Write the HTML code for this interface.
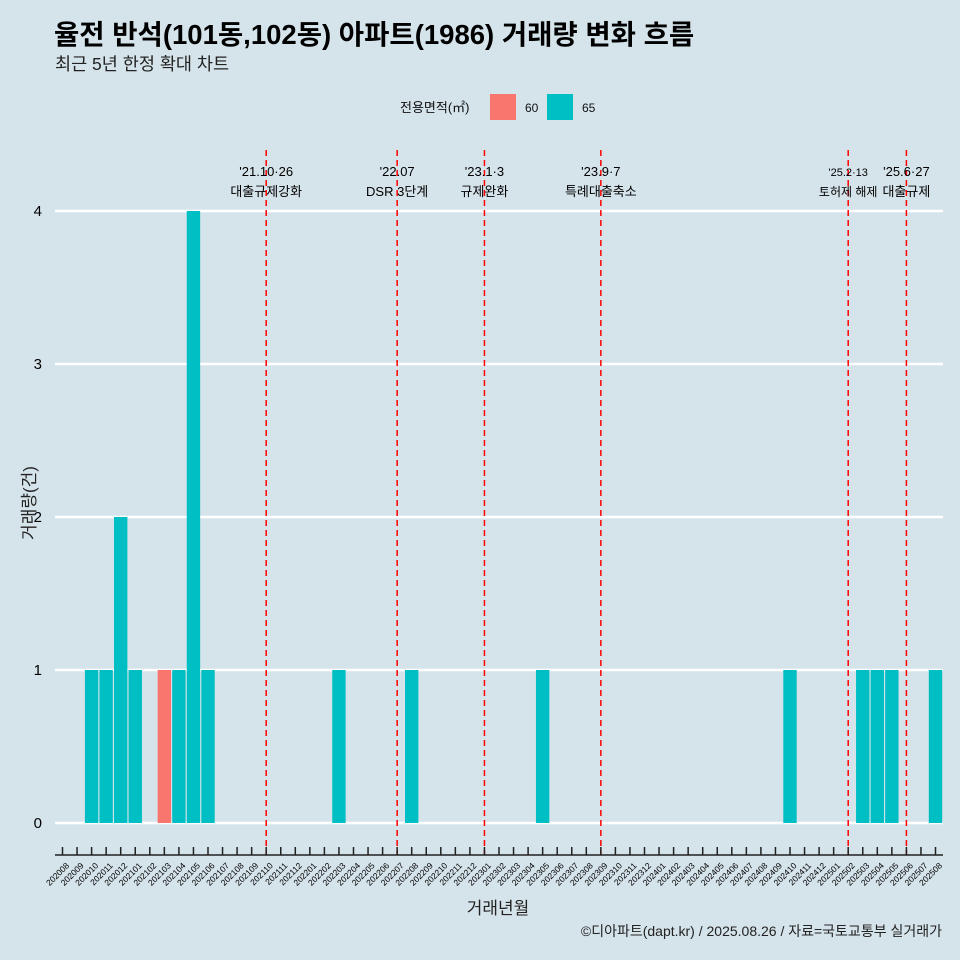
<!DOCTYPE html>
<html><head><meta charset="utf-8"><style>
body{margin:0;background:#d5e3ea;}
svg{display:block;font-family:"Liberation Sans","Noto Sans CJK KR",sans-serif;}
</style></head><body>
<svg id="chart" width="960" height="960" viewBox="0 0 960 960">
<rect width="960" height="960" fill="#d5e3ea"/>
<text x="54" y="44" font-size="27.5" font-weight="bold" fill="#000">율전 반석(101동,102동) 아파트(1986) 거래량 변화 흐름</text>
<text x="55" y="70" font-size="17.5" fill="#222">최근 5년 한정 확대 차트</text>
<g>
<text x="400" y="112" font-size="13" fill="#111">전용면적(㎡)</text>
<rect x="490" y="94" width="26" height="26" fill="#f8766d"/>
<text x="525" y="112" font-size="12" fill="#111">60</text>
<rect x="547" y="94" width="26" height="26" fill="#00bfc4"/>
<text x="582" y="112" font-size="12" fill="#111">65</text>
</g>
<g id="grid"></g><g id="bars"></g><g id="events"></g><g id="xaxis"></g>
<text x="42" y="823" font-size="15" text-anchor="end" dy="5">0</text>
<text transform="translate(35,503) rotate(-90)" font-size="17" text-anchor="middle" fill="#222">거래량(건)</text>
<text x="498" y="914" font-size="17" text-anchor="middle" fill="#222">거래년월</text>
<text x="942" y="936" font-size="14" text-anchor="end" fill="#222">©디아파트(dapt.kr) / 2025.08.26 / 자료=국토교통부 실거래가</text>
</svg>
<script>
const months=[];for(let y=2020,m=8;!(y===2025&&m===9);){months.push(''+y+(m<10?'0':'')+m);m++;if(m>12){m=1;y++;}}
const barMonths=['202010','202011','202012','202101','202103','202104','202105','202106','202203','202208','202305','202410','202503','202504','202505','202508'];
const barValues=[1,1,2,1,1,1,4,1,1,1,1,1,1,1,1,1];
const barAreas=['65','65','65','65','60','65','65','65','65','65','65','65','65','65','65','65'];
const yTicks=[1,2,3,4];
const evMonths=['202110','202207','202301','202309','202502','202506'];
const evLine1=["'21.10·26","'22.07","'23.1·3","'23.9·7","'25.2·13","'25.6·27"];
const evLine2=["대출규제강화","DSR 3단계","규제완화","특례대출축소","토허제 해제","대출규제"];
const NS='http://www.w3.org/2000/svg';
const x=i=>62.5+i*14.55, y=v=>823-v*153;
function mk(t,a,p){const e=document.createElementNS(NS,t);for(const k in a)e.setAttribute(k,a[k]);p.appendChild(e);return e;}
const grid=document.getElementById('grid');
[0].concat(yTicks).forEach(v=>{const l=mk('line',{x1:55,x2:943,y1:y(v),y2:y(v),stroke:'#fff','stroke-width':2.5},grid);

});
yTicks.forEach(v=>{const t=mk('text',{x:42,y:y(v)+5,'font-size':15,'text-anchor':'end'},grid);t.textContent=v;

});
const bars=document.getElementById('bars');
barMonths.forEach((mo,k)=>{const i=months.indexOf(mo);const v=barValues[k];
const r=mk('rect',{x:x(i)-6.7,width:13.4,y:y(v),height:y(0)-y(v),fill:barAreas[k]==='60'?'#f8766d':'#00bfc4'},bars);

});
const ev=document.getElementById('events');
evMonths.forEach((mo,k)=>{const i=months.indexOf(mo);const xx=x(i);
const l=mk('line',{x1:xx,x2:xx,y1:150,y2:855,stroke:'#f00','stroke-width':1.5,'stroke-dasharray':'6,4'},ev);


const small=mo==='202502';
const t1=mk('text',{x:xx,y:176,'font-size':small?11:13,'text-anchor':'middle'},ev);t1.textContent=evLine1[k];


const t2=mk('text',{x:xx,y:196,'font-size':small?12:13,'text-anchor':'middle'},ev);t2.textContent=evLine2[k];

});
const xa=document.getElementById('xaxis');
const al=mk('line',{x1:55,x2:943,y1:855,y2:855,stroke:'#222','stroke-width':1.5},xa);


months.forEach((mo,i)=>{const xx=x(i);
const tk=mk('line',{x1:xx,x2:xx,y1:847,y2:855,stroke:'#222','stroke-width':1.5},xa);


const t=mk('text',{transform:`translate(${xx+3},${862}) rotate(-45)`,'font-size':8.5,'text-anchor':'end',dy:'0.7em'},xa);t.textContent=mo;

});
</script>
</body></html>
